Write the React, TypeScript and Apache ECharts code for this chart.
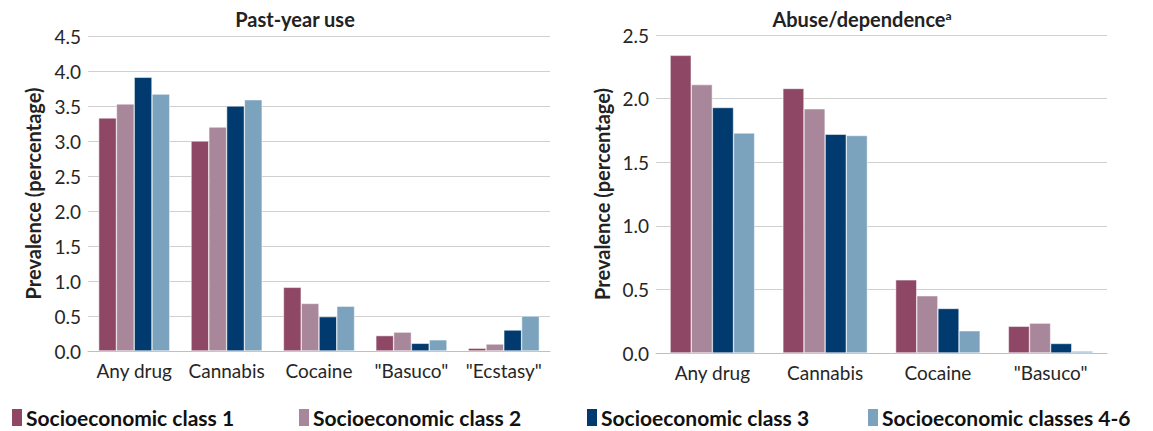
import React, { useEffect, useRef } from "react";
import * as echarts from "echarts";

const seriesNames = [
  "Socioeconomic class 1",
  "Socioeconomic class 2",
  "Socioeconomic class 3",
  "Socioeconomic classes 4-6",
];
const colors = ["#8E4865", "#A9879B", "#003A6E", "#7BA3BE"];

const pastYearCategories = ["Any drug", "Cannabis", "Cocaine", '"Basuco"', '"Ecstasy"'];
const pastYearClass1 = [3.33, 3.0, 0.91, 0.22, 0.04];
const pastYearClass2 = [3.53, 3.2, 0.68, 0.27, 0.1];
const pastYearClass3 = [3.91, 3.5, 0.49, 0.11, 0.3];
const pastYearClass46 = [3.67, 3.59, 0.64, 0.16, 0.5];

const abuseCategories = ["Any drug", "Cannabis", "Cocaine", '"Basuco"'];
const abuseClass1 = [2.34, 2.08, 0.575, 0.21];
const abuseClass2 = [2.11, 1.92, 0.45, 0.235];
const abuseClass3 = [1.93, 1.72, 0.35, 0.075];
const abuseClass46 = [1.73, 1.71, 0.175, 0.015];

const FONT = "Lato";

export default function App() {
  const ref = useRef<HTMLDivElement>(null);
  useEffect(() => {
    if (!ref.current) return;
    const chart = echarts.init(ref.current, null, { renderer: "svg" });
    const pastData = [pastYearClass1, pastYearClass2, pastYearClass3, pastYearClass46];
    const abuseData = [abuseClass1, abuseClass2, abuseClass3, abuseClass46];
    const axisLabel = { color: "#262626", fontSize: 19, fontFamily: FONT };
    const yName = "Prevalence (percentage)";
    const legendLefts = [10, 297, 585, 866];
    const titleStyle = { fontSize: 20, fontWeight: "bold", color: "#222", fontFamily: FONT };
    chart.setOption({
      animation: false,
      textStyle: { fontFamily: FONT },
      title: [
        {
          text: "Past-year use",
          left: 290,
          top: 4,
          textAlign: "center",
          textStyle: titleStyle,
        },
        {
          text: "Abuse/dependence{a|a}",
          left: 857,
          top: 4,
          textAlign: "center",
          textStyle: {
            ...titleStyle,
            rich: {
              a: { fontSize: 12, fontWeight: "bold", color: "#222", verticalAlign: "top", padding: [0, 0, 8, 0], fontFamily: FONT },
            },
          },
        },
      ],
      legend: seriesNames.map((n, i) => ({
        data: [n],
        left: legendLefts[i],
        top: 407,
        padding: 0,
        icon: "rect",
        itemWidth: 12,
        itemHeight: 19,
        itemGap: 5,
        selectedMode: false,
        textStyle: { fontSize: 21, lineHeight: 21, fontWeight: "bold", color: "#111", fontFamily: FONT, padding: [0, 0, 0, -2] },
      })),
      grid: [
        { left: 88, right: 603, top: 36, bottom: 80 },
        { left: 656, right: 46, top: 35, bottom: 78 },
      ],
      xAxis: [
        {
          type: "category",
          gridIndex: 0,
          data: pastYearCategories,
          axisTick: { show: false },
          axisLine: { lineStyle: { color: "#BFBFBF" } },
          axisLabel: { ...axisLabel, margin: 10, interval: 0 },
        },
        {
          type: "category",
          gridIndex: 1,
          data: abuseCategories,
          axisTick: { show: false },
          axisLine: { lineStyle: { color: "#BFBFBF" } },
          axisLabel: { ...axisLabel, margin: 10, interval: 0 },
        },
      ],
      yAxis: [
        {
          type: "value",
          gridIndex: 0,
          min: 0,
          max: 4.5,
          interval: 0.5,
          axisLabel: { ...axisLabel, margin: 7, formatter: (v: number) => v.toFixed(1) },
          splitLine: { lineStyle: { color: "#D0D0D0" } },
          name: yName,
          nameLocation: "middle",
          nameGap: 45,
          nameTextStyle: { fontSize: 20, fontWeight: "bold", color: "#222", fontFamily: FONT },
        },
        {
          type: "value",
          gridIndex: 1,
          min: 0,
          max: 2.5,
          interval: 0.5,
          axisLabel: { ...axisLabel, margin: 7, formatter: (v: number) => v.toFixed(1) },
          splitLine: { lineStyle: { color: "#D0D0D0" } },
          name: yName,
          nameLocation: "middle",
          nameGap: 44,
          nameTextStyle: { fontSize: 20, fontWeight: "bold", color: "#222", fontFamily: FONT },
        },
      ],
      series: [
        ...seriesNames.map((n, i) => ({
          name: n,
          type: "bar",
          xAxisIndex: 0,
          yAxisIndex: 0,
          data: pastData[i],
          barGap: "0%",
          barCategoryGap: "23%",
          itemStyle: { color: colors[i], borderColor: "#fff", borderWidth: 0.5 },
        })),
        ...seriesNames.map((n, i) => ({
          name: n,
          type: "bar",
          xAxisIndex: 1,
          yAxisIndex: 1,
          data: abuseData[i],
          barGap: "0%",
          barCategoryGap: "25%",
          itemStyle: { color: colors[i], borderColor: "#fff", borderWidth: 0.5 },
        })),
      ],
    });
    return () => chart.dispose();
  }, []);
  return (
    <div
      ref={ref}
      style={{ position: "absolute", left: 0, top: 0, width: 1153, height: 431, background: "#fff" }}
    />
  );
}
